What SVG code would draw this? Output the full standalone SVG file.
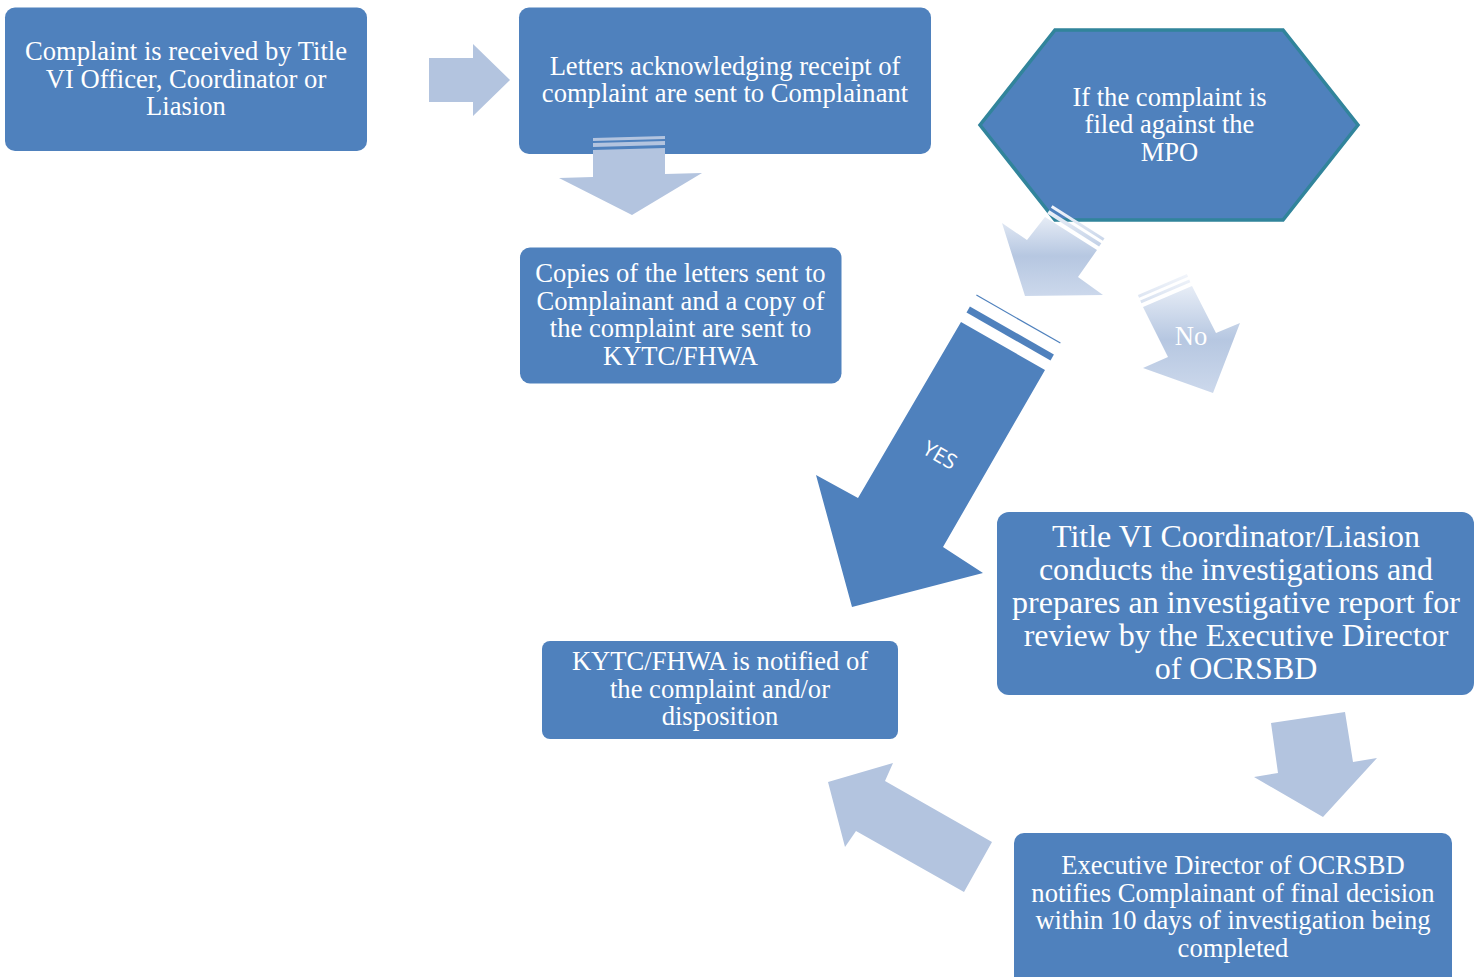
<svg xmlns="http://www.w3.org/2000/svg" width="1483" height="977" viewBox="0 0 1483 977">
  <defs>
    <linearGradient id="gHex" gradientUnits="userSpaceOnUse" x1="0" y1="205" x2="0" y2="298">
      <stop offset="0" stop-color="#F4F7FC"/>
      <stop offset="0.55" stop-color="#B6C7E1"/>
      <stop offset="1" stop-color="#CDD9EC"/>
    </linearGradient>
    <linearGradient id="gNo" gradientUnits="userSpaceOnUse" x1="0" y1="272" x2="0" y2="395">
      <stop offset="0" stop-color="#F4F7FC"/>
      <stop offset="0.55" stop-color="#B6C7E1"/>
      <stop offset="1" stop-color="#CDD9EC"/>
    </linearGradient>
  </defs>
  <style>
    .box { fill: #4F81BD; }
    .hex { fill: #4F81BD; stroke: #31849B; stroke-width: 3.5; stroke-linejoin: miter; }
    .t { font-family: "Liberation Serif", "Times New Roman", serif; font-size: 26.6px; fill: #FFFFFF; text-anchor: middle; }
    .tb { font-family: "Liberation Serif", "Times New Roman", serif; font-size: 32px; fill: #FFFFFF; text-anchor: middle; }
    .light { fill: #B3C4DF; }
    .dark { fill: #4F81BD; }
    .yes { font-family: "Open Sans", "Liberation Sans", sans-serif; font-size: 21px; fill: #FFFFFF; text-anchor: middle; }
  </style>
  <rect width="1483" height="977" fill="#FFFFFF"/>

  <g id="n1">
    <rect class="box" x="5" y="7.5" width="362" height="143.5" rx="10"/>
    <text class="t"><tspan x="186" y="60">Complaint is received by Title</tspan><tspan x="186" y="87.5">VI Officer, Coordinator or</tspan><tspan x="186" y="115">Liasion</tspan></text>
  </g>
  <g id="n2">
    <rect class="box" x="519" y="7.5" width="412" height="146.5" rx="10"/>
    <text class="t"><tspan x="725" y="74.5">Letters acknowledging receipt of</tspan><tspan x="725" y="102">complaint are sent to Complainant</tspan></text>
  </g>
  <g id="n3">
    <rect class="box" x="520" y="247.5" width="321.5" height="136" rx="10"/>
    <text class="t"><tspan x="680.5" y="282">Copies of the letters sent to</tspan><tspan x="680.5" y="309.5">Complainant and a copy of</tspan><tspan x="680.5" y="337">the complaint are sent to</tspan><tspan x="680.5" y="364.5">KYTC/FHWA</tspan></text>
  </g>
  <g id="n4">
    <polygon class="hex" points="1055,30 1283,30 1358,125 1283,220 1055,220 980,125"/>
    <text class="t"><tspan x="1169.5" y="105.5">If the complaint is</tspan><tspan x="1169.5" y="133">filed against the</tspan><tspan x="1169.5" y="160.5">MPO</tspan></text>
  </g>
  <g id="n5">
    <rect class="box" x="997" y="512" width="477" height="183" rx="12"/>
    <text class="tb"><tspan x="1236" y="547">Title VI Coordinator/Liasion</tspan><tspan x="1236" y="580">conducts <tspan font-size="26.6px">the</tspan> investigations and</tspan><tspan x="1236" y="613">prepares an investigative report for</tspan><tspan x="1236" y="646">review by the Executive Director</tspan><tspan x="1236" y="679">of OCRSBD</tspan></text>
  </g>
  <g id="n6">
    <rect class="box" x="542" y="641" width="356" height="98" rx="8"/>
    <text class="t"><tspan x="720" y="670">KYTC/FHWA is notified of</tspan><tspan x="720" y="697.5">the complaint and/or</tspan><tspan x="720" y="725">disposition</tspan></text>
  </g>
  <g id="n7">
    <rect class="box" x="1014" y="833" width="438" height="160" rx="10"/>
    <text class="t"><tspan x="1233" y="874">Executive Director of OCRSBD</tspan><tspan x="1233" y="901.5">notifies Complainant of final decision</tspan><tspan x="1233" y="929">within 10 days of investigation being</tspan><tspan x="1233" y="956.5">completed</tspan></text>
  </g>

  <g id="connectors">
    <polygon class="light" points="429,58 473,58 473,44 510,80 473,116 473,102 429,102"/>
    <g id="c2">
      <polygon class="light" points="593,138 665,136 665,139 593,141"/>
      <polygon class="light" points="593,143 665,141 665,145 593,147"/>
      <polygon class="light" points="593,150 665,148 665,174 702,173 632,215 559,178 593,177"/>
    </g>
    <g id="c3">
      <polygon fill="url(#gHex)" points="1047.1,213.6 1099.1,246.6 1101.3,243.2 1049.3,210.2"/>
      <polygon fill="url(#gHex)" points="1050.9,207.7 1102.9,240.7 1104.5,238.2 1052.5,205.2"/>
      <polygon fill="url(#gHex)" points="1045,217 1097,250 1078,277 1103,295 1025,296 1002,223 1027,240"/>
    </g>
    <g id="c4">
      <polygon fill="url(#gNo)" points="1141.4,303.3 1190.4,282.3 1189.2,279.6 1140.2,300.6"/>
      <polygon fill="url(#gNo)" points="1139.1,297.8 1188.1,276.8 1186.9,274.1 1137.9,295.1"/>
      <polygon fill="url(#gNo)" points="1143,307 1192,286 1216,333 1240,323 1213,393 1143,368 1168,357"/>
      <text class="t" x="1191" y="345" text-anchor="middle">No</text>
    </g>
    <g id="c5">
      <line x1="976.4" y1="295.1" x2="1060.4" y2="343.1" stroke="#4F81BD" stroke-width="1.2"/>
      <polygon class="dark" points="966.5,312.5 1050.5,360.5 1053.9,354.4 969.9,306.4"/>
      <polygon class="dark" points="961,322 1045,370 943,547 983,573 852,607 816,475 858,498"/>
      <text class="yes" transform="translate(940,455) rotate(30)" x="0" y="7.5">YES</text>
    </g>
    <polygon class="light" points="1271,723 1345,712 1353,762 1377,758 1323,817 1254,777 1278,773"/>
    <polygon class="light" points="828,782 893,763 885,781 992,842 964,892 856,831 845,847"/>
  </g>
</svg>
